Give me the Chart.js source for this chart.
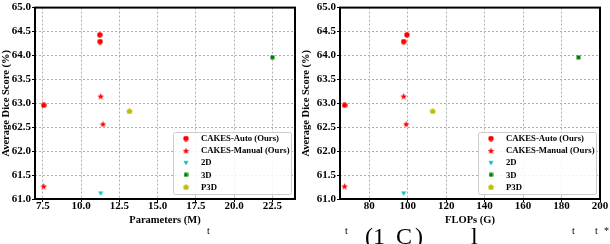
<!DOCTYPE html>
<html>
<head>
<meta charset="utf-8">
<script src="https://cdn.jsdelivr.net/npm/chart.js@4.4.0/dist/chart.umd.min.js"></script>
<style>
  html, body { margin: 0; padding: 0; background: #fff; }
  #wrap { position: relative; width: 610px; height: 244px; overflow: hidden; }
  #paramsChart { position: absolute; left: 0; top: 0; }
  #flopsChart { position: absolute; left: 300px; top: 0; }
  .frag { position: absolute; top: 224px; font-family: "Liberation Serif", serif; font-size: 24px; line-height: 1; color: #000; }
  .frag.small { top: 226px; font-size: 10px; }
</style>
</head>
<body>
<div id="wrap">
  <canvas id="paramsChart" width="300" height="227"></canvas>
  <canvas id="flopsChart" width="310" height="227"></canvas>
  <!-- tops of the paper text under the figure -->
  <span class="frag small" style="left:207px">t</span>
  <span class="frag small" style="left:345px">t</span>
  <span class="frag" style="left:365px">(1</span>
  <span class="frag" style="left:396px">C</span>
  <span class="frag" style="left:415px">)</span>
  <span class="frag" style="left:471px">l</span>
  <span class="frag small" style="left:572px">t</span>
  <span class="frag small" style="left:595px">t</span>
  <span class="frag small" style="left:604px">*</span>
</div>
<script>
// legend names
const seriesNames = ['CAKES-Auto (Ours)', 'CAKES-Manual (Ours)', '2D', '3D', 'P3D'];

// dice scores (%)
const autoScores = [62.96, 64.43, 64.29];
const manualScores = [61.27, 63.15, 62.57];
const twoDScores = [61.12];
const threeDScores = [63.96];
const p3dScores = [62.84];

// parameters (M)
const autoParams = [7.56, 11.22, 11.24];
const manualParams = [7.56, 11.28, 11.43];
const twoDParams = [11.28];
const threeDParams = [22.5];
const p3dParams = [13.16];

// FLOPs (G)
const autoFlops = [67.2, 99.6, 97.9];
const manualFlops = [67.2, 97.9, 99.2];
const twoDFlops = [97.9];
const threeDFlops = [188.8];
const p3dFlops = [113.0];

// ticks
const yTicks = [61.0, 61.5, 62.0, 62.5, 63.0, 63.5, 64.0, 64.5, 65.0];
const paramTicks = [7.5, 10.0, 12.5, 15.0, 17.5, 20.0, 22.5];
const flopTicks = [80, 100, 120, 140, 160, 180, 200];

Chart.defaults.font.family = '"Liberation Serif", "Times New Roman", serif';
Chart.defaults.color = '#000';

function makeMarker(shape, color, size) {
    const c = document.createElement('canvas');
    c.width = size;
    c.height = size;
    const g = c.getContext('2d');
    const r = size / 2;
    g.fillStyle = color;
    g.beginPath();
    if (shape === 'circle') {
        g.arc(r, r, r - 0.3, 0, Math.PI * 2);
    } else if (shape === 'star') {
        for (let i = 0; i < 10; i++) {
            const a = -Math.PI / 2 + i * Math.PI / 5;
            const rad = i % 2 ? r * 0.42 : r;
            const px = r + rad * Math.cos(a), py = r + 0.5 + rad * Math.sin(a);
            if (i === 0) g.moveTo(px, py); else g.lineTo(px, py);
        }
    } else if (shape === 'tri') {
        g.moveTo(0.5, r - r * 0.55);
        g.lineTo(size - 0.5, r - r * 0.55);
        g.lineTo(r, size - 0.5);
    } else if (shape === 'square') {
        g.rect(0.5, 0.5, size - 1, size - 1);
    } else if (shape === 'pent') {
        for (let i = 0; i < 5; i++) {
            const a = -Math.PI / 2 + i * 2 * Math.PI / 5;
            const px = r + (r - 0.3) * Math.cos(a), py = r + 0.4 + (r - 0.3) * Math.sin(a);
            if (i === 0) g.moveTo(px, py); else g.lineTo(px, py);
        }
    }
    g.closePath();
    g.fill();
    return c;
}

const markers = [
    makeMarker('circle', '#ff0000', 6),
    makeMarker('star', '#ff0000', 7),
    makeMarker('tri', '#00bfbf', 6),
    makeMarker('square', '#008000', 5),
    makeMarker('pent', '#bfbf00', 7)
];

const fontTick = { size: 11, weight: 'bold' };
const fontTitle = { size: 10.5, weight: 'bold' };

// frame round the axes and legend box in the lower right corner
const framePlugin = {
    id: 'frameLegend',
    afterDraw(chart) {
        const ctx = chart.ctx;
        const a = chart.chartArea;
        ctx.save();
        ctx.strokeStyle = '#000';
        ctx.lineWidth = 2;
        ctx.strokeRect(a.left, a.top, a.right - a.left, a.bottom - a.top);

        const w = 118, h = 62;
        const lx = a.right - 4 - w, ly = a.bottom - 5 - h;
        ctx.fillStyle = 'rgba(255,255,255,0.85)';
        ctx.strokeStyle = '#cccccc';
        ctx.lineWidth = 1;
        ctx.beginPath();
        ctx.roundRect(lx + 0.5, ly + 0.5, w, h, 2);
        ctx.fill();
        ctx.stroke();

        ctx.fillStyle = '#000';
        ctx.font = 'bold 8.7px "Liberation Serif", serif';
        ctx.textBaseline = 'middle';
        ctx.textAlign = 'left';
        seriesNames.forEach((name, i) => {
            const y = ly + 6.5 + i * 12.1;
            const m = markers[i];
            ctx.drawImage(m, lx + 13 - m.width / 2, y - m.height / 2);
            ctx.fillText(name, lx + 28, y + 0.5);
        });
        ctx.restore();
    }
};

function pts(xs, ys) {
    return xs.map((x, i) => ({ x: x, y: ys[i] }));
}

function buildChart(id, xs, xMin, xMax, xTicks, xTitle, xFmt, yWidth, padRight) {
    const yList = [autoScores, manualScores, twoDScores, threeDScores, p3dScores];
    const ctx = document.getElementById(id).getContext('2d');
    return new Chart(ctx, {
        type: 'scatter',
        data: {
            datasets: seriesNames.map((name, i) => ({
                label: name,
                data: pts(xs[i], yList[i]),
                pointStyle: markers[i],
                backgroundColor: '#000',
                showLine: false
            }))
        },
        options: {
            responsive: false,
            animation: false,
            layout: { padding: { left: 0, right: padRight, top: 3, bottom: 0 } },
            plugins: {
                legend: { display: false },
                tooltip: { enabled: false }
            },
            scales: {
                x: {
                    type: 'linear',
                    min: xMin,
                    max: xMax,
                    afterBuildTicks: s => { s.ticks = xTicks.map(v => ({ value: v })); },
                    afterFit: s => { s.height = 28; },
                    ticks: { font: fontTick, padding: -2, maxRotation: 0, autoSkip: false, callback: v => xFmt(v) },
                    grid: { color: '#b0b0b0', lineWidth: 1, tickLength: 3, tickColor: '#000', tickBorderDash: [] },
                    border: { display: false, dash: [2, 2] },
                    title: { display: true, text: xTitle, font: fontTitle, padding: { top: 0, bottom: 0 } }
                },
                y: {
                    type: 'linear',
                    min: 61,
                    max: 65,
                    afterBuildTicks: s => { s.ticks = yTicks.map(v => ({ value: v })); },
                    afterFit: s => { s.width = yWidth; },
                    ticks: { font: fontTick, padding: 1, callback: v => v.toFixed(1) },
                    grid: { color: '#b0b0b0', lineWidth: 1, tickLength: 3, tickColor: '#000', tickBorderDash: [] },
                    border: { display: false, dash: [2, 2] },
                    title: { display: true, text: 'Average Dice Score (%)', font: fontTitle, padding: { top: 0, bottom: 0 } }
                }
            }
        },
        plugins: [framePlugin]
    });
}

buildChart('paramsChart',
    [autoParams, manualParams, twoDParams, threeDParams, p3dParams],
    6.99, 23.97, paramTicks, 'Parameters (M)', v => v.toFixed(1), 35, 3);

buildChart('flopsChart',
    [autoFlops, manualFlops, twoDFlops, threeDFlops, p3dFlops],
    64.8, 200, flopTicks, 'FLOPs (G)', v => String(v), 40, 10);
</script>
</body>
</html>
